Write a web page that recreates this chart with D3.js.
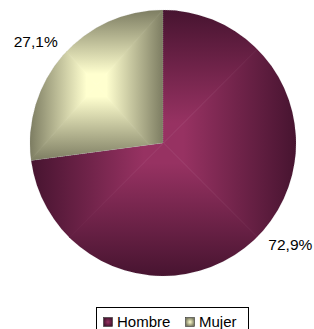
<!DOCTYPE html>
<html>
<head>
<meta charset="utf-8">
<script src="https://cdn.jsdelivr.net/npm/d3@7/dist/d3.min.js"></script>
<style>
  html, body { margin: 0; padding: 0; background: #fff; }
  svg { display: block; font-family: 'Liberation Sans', Arial, sans-serif; }
</style>
</head>
<body>
<svg id="chart" width="314" height="329"></svg>
<script>
/* global d3 */

// data
const categories = ['Hombre', 'Mujer']
const values = [72.9, 27.1]
const valueLabels = ['72,9%', '27,1%']

// styles
const edgeColors = ['#471430', '#7d7d62']
const centerColors = ['#973262', '#ffffcf']

const cx = 163
const cy = 143
const radius = 133
const labelRadius = 163
const labelTurn = -0.045 // labels sit a little off the mid angle

const svg = d3.select('#chart')
const defs = svg.append('defs')

const pie = d3.pie().sort(null).value(d => d)
const arc = d3.arc().innerRadius(0).outerRadius(radius)

const slices = pie(values)

const g = svg.append('g').attr('transform', 'translate(' + cx + ',' + cy + ')')

slices.forEach(function (d, i) {
  let clipId = 'clip-' + i
  defs.append('clipPath').attr('id', clipId)
    .append('path').attr('d', arc(d))

  // bbox of the slice, used for the "from center" rectangular gradient
  let tmp = g.append('path').attr('d', arc(d))
  let b = tmp.node().getBBox()
  tmp.remove()
  let x0 = b.x
  let y0 = b.y
  let x1 = b.x + b.width
  let y1 = b.y + b.height
  let mx = (x0 + x1) / 2
  let my = (y0 + y1) / 2

  let sides = [
    { pts: [[x0, y0], [x1, y0], [mx, my]], from: [mx, y0], to: [mx, my] },
    { pts: [[x1, y0], [x1, y1], [mx, my]], from: [x1, my], to: [mx, my] },
    { pts: [[x1, y1], [x0, y1], [mx, my]], from: [mx, y1], to: [mx, my] },
    { pts: [[x0, y1], [x0, y0], [mx, my]], from: [x0, my], to: [mx, my] }
  ]

  let sg = g.append('g').attr('clip-path', 'url(#' + clipId + ')')
  sides.forEach(function (s, j) {
    let gid = 'grad-' + i + '-' + j
    let lg = defs.append('linearGradient')
      .attr('id', gid)
      .attr('gradientUnits', 'userSpaceOnUse')
      .attr('x1', s.from[0]).attr('y1', s.from[1])
      .attr('x2', s.to[0]).attr('y2', s.to[1])
    lg.append('stop').attr('offset', '0%').attr('stop-color', edgeColors[i])
    lg.append('stop').attr('offset', '85%').attr('stop-color', centerColors[i])
    lg.append('stop').attr('offset', '100%').attr('stop-color', centerColors[i])
    sg.append('polygon')
      .attr('points', s.pts.map(p => p.join(',')).join(' '))
      .attr('fill', 'url(#' + gid + ')')
      .attr('stroke', 'url(#' + gid + ')')
      .attr('stroke-width', 0.8)
  })
})

// thin slice borders
g.selectAll('path.border')
  .data(slices)
  .enter()
  .append('path')
  .attr('class', 'border')
  .attr('d', arc)
  .attr('fill', 'none')
  .attr('stroke', '#b0b0b0')
  .attr('stroke-width', 0.5)
  .attr('stroke-dasharray', '1,1')
  .attr('stroke-opacity', 0.5)

// value labels
function labelPos (d) {
  let a = (d.startAngle + d.endAngle) / 2 + labelTurn
  return [labelRadius * Math.sin(a), -labelRadius * Math.cos(a)]
}

g.selectAll('text.val')
  .data(slices)
  .enter()
  .append('text')
  .attr('class', 'val')
  .attr('x', d => labelPos(d)[0])
  .attr('y', d => labelPos(d)[1])
  .attr('dy', '0.35em')
  .attr('text-anchor', 'middle')
  .style('font-size', '15.5px')
  .attr('fill', '#000')
  .text((d, i) => valueLabels[i])

// legend
const legend = svg.append('g').attr('transform', 'translate(96,307)')
legend.append('rect')
  .attr('x', 0.5)
  .attr('y', 0.5)
  .attr('width', 152)
  .attr('height', 30)
  .attr('fill', '#fff')
  .attr('stroke', '#000')
  .attr('stroke-width', 1)

const itemX = [7, 89]
categories.forEach(function (c, i) {
  let rg = defs.append('radialGradient').attr('id', 'leg-' + i)
  rg.append('stop').attr('offset', '0%').attr('stop-color', centerColors[i])
  rg.append('stop').attr('offset', '100%').attr('stop-color', edgeColors[i])
  legend.append('rect')
    .attr('x', itemX[i] + 0.5)
    .attr('y', 10.5)
    .attr('width', 9)
    .attr('height', 9)
    .attr('fill', 'url(#leg-' + i + ')')
    .attr('stroke', '#333')
    .attr('stroke-width', 0.6)
  legend.append('text')
    .attr('x', itemX[i] + 14)
    .attr('y', 19.5)
    .style('font-size', '15px')
    .attr('fill', '#000')
    .text(c)
})
</script>
</body>
</html>
